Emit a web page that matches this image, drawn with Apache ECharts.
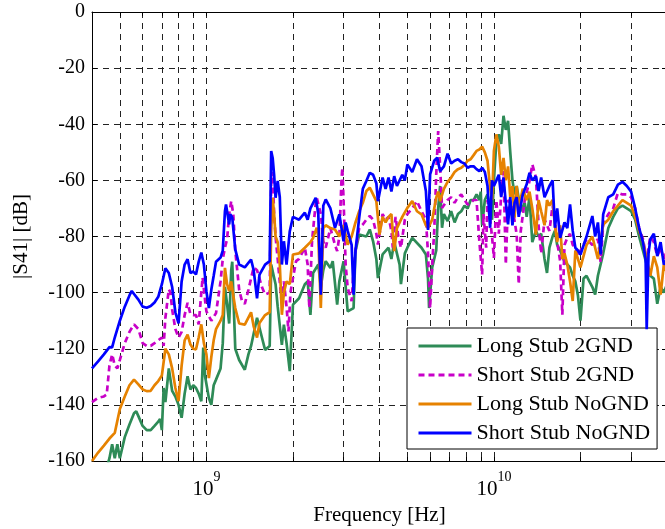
<!DOCTYPE html>
<html><head><meta charset="utf-8">
<script src="https://cdn.jsdelivr.net/npm/echarts@6/dist/echarts.min.js"></script>
<style>html,body{margin:0;padding:0;background:#fff}#c{width:665px;height:529px}</style>
</head><body><div id="c"></div>
<script>
const seriesNames = ['Long Stub 2GND', 'Short Stub 2GND', 'Long Stub NoGND', 'Short Stub NoGND'];
const seriesColors = ['#2e8b57', '#c800c8', '#e68200', '#0000ff'];
const xMinorTicksHz = [5e8,6e8,7e8,8e8,9e8,1e9,2e9,3e9,4e9,5e9,6e9,7e9,8e9,9e9,1e10,2e10,3e10];
const xLabelTicksHz = [1e9, 1e10];
const yMin = -160, yMax = 0, yStep = 20;

// [frequency in GHz, |S41| in dB]
const longStub2GND = [[0.44,-166],[0.46,-159],[0.47,-154],[0.48,-159],[0.49,-154],[0.50,-159],[0.52,-151.5],[0.54,-147],[0.56,-143],[0.57,-142.3],[0.58,-144],[0.60,-147.5],[0.62,-149],[0.64,-149],[0.66,-147.5],[0.68,-146],[0.69,-145],[0.70,-149],[0.71,-134],[0.72,-139],[0.74,-127],[0.76,-135],[0.78,-137],[0.80,-140],[0.82,-144.6],[0.84,-136],[0.86,-129.8],[0.88,-134.5],[0.90,-133],[0.92,-134],[0.94,-136],[0.96,-138.7],[0.975,-119.6],[0.99,-130],[1.00,-130.5],[1.02,-137.6],[1.04,-140],[1.06,-133],[1.08,-131],[1.12,-127],[1.14,-118],[1.16,-98],[1.18,-104],[1.20,-111],[1.22,-92],[1.23,-89],[1.24,-100],[1.26,-120],[1.30,-124],[1.36,-127.5],[1.40,-122],[1.43,-119],[1.50,-109],[1.56,-116],[1.60,-120.4],[1.66,-119],[1.68,-90],[1.70,-90],[1.74,-97],[1.77,-105],[1.83,-118.6],[1.86,-111.4],[1.90,-118],[1.95,-128],[2.00,-104.3],[2.1,-102],[2.2,-97],[2.25,-96],[2.3,-107.9],[2.35,-93],[2.45,-90],[2.5,-98],[2.55,-92],[2.6,-88.8],[2.7,-91.2],[2.75,-88.8],[2.85,-104.3],[2.9,-96],[3.0,-88.8],[3.1,-106.7],[3.25,-105.5],[3.3,-85.2],[3.4,-79.3],[3.6,-80],[3.7,-77.5],[3.8,-81.7],[3.9,-88],[3.95,-94.8],[4.1,-86.4],[4.3,-84],[4.4,-88],[4.5,-82],[4.7,-90],[4.75,-97],[4.9,-86],[5.0,-84],[5.2,-80.5],[5.6,-84],[5.8,-86.4],[5.9,-95],[5.95,-105.5],[6.1,-91],[6.3,-85],[6.4,-70],[6.5,-62],[6.6,-76.9],[6.7,-72],[6.9,-74.5],[7.1,-71],[7.3,-75],[7.5,-72],[7.7,-71],[7.9,-69],[8.1,-70],[8.3,-67],[8.5,-67],[8.7,-65],[8.9,-67],[9.0,-64],[9.1,-76],[9.3,-67],[9.5,-65],[9.7,-70],[9.85,-74],[10.0,-60],[10.2,-46],[10.4,-43.6],[10.6,-47],[10.8,-37],[11.0,-42],[11.2,-38.8],[11.4,-50],[11.6,-60],[11.8,-65],[12.0,-62],[12.4,-71],[12.8,-68],[13.0,-73],[13.3,-66],[13.6,-82],[14.0,-78],[14.3,-80],[14.6,-79],[15.0,-88],[15.3,-93],[15.6,-84],[16.0,-80],[16.3,-78],[16.6,-83],[17.0,-85],[17.3,-87],[17.6,-89],[18.0,-90],[18.4,-91],[18.8,-94],[19.2,-96],[19.6,-101],[20,-110],[20.5,-95],[21,-94],[22,-98],[22.5,-100.7],[23,-94],[24,-86],[25,-77],[26,-73],[27,-70],[28,-69],[29,-70],[30,-71],[31,-74],[32,-80],[33,-85],[34,-90],[35,-94],[36,-95],[37,-104],[38,-98],[39,-100],[40,-97]];

const shortStub2GND = [[0.40,-139],[0.42,-137.5],[0.44,-137],[0.45,-136.3],[0.46,-126],[0.47,-122],[0.48,-126],[0.49,-127],[0.50,-124],[0.52,-118],[0.54,-114],[0.56,-111.3],[0.58,-113],[0.60,-118],[0.62,-119],[0.64,-119],[0.66,-118],[0.68,-117],[0.70,-116],[0.71,-119],[0.72,-109],[0.74,-98.8],[0.75,-100],[0.76,-106],[0.78,-113],[0.80,-116],[0.82,-114],[0.84,-108],[0.86,-103.6],[0.88,-107.7],[0.90,-108],[0.92,-108],[0.94,-111.3],[0.96,-100],[0.97,-94.6],[0.99,-103],[1.00,-106.7],[1.04,-110],[1.08,-107.3],[1.12,-96],[1.14,-88],[1.16,-84],[1.18,-81],[1.20,-72],[1.22,-67.4],[1.24,-72],[1.26,-85],[1.28,-92],[1.30,-99],[1.33,-103],[1.36,-104],[1.40,-99],[1.46,-91],[1.50,-92],[1.56,-98],[1.60,-100.7],[1.66,-100],[1.68,-60],[1.70,-57],[1.72,-72],[1.74,-80],[1.77,-88],[1.83,-104.3],[1.86,-96],[1.90,-105],[1.93,-113.8],[1.96,-100],[2.00,-94.8],[2.05,-88.8],[2.1,-88],[2.2,-84],[2.25,-90],[2.28,-105.5],[2.33,-81.7],[2.4,-68],[2.42,-66.2],[2.5,-72],[2.55,-81.7],[2.6,-84],[2.7,-77],[2.8,-83],[2.85,-85.2],[2.9,-80],[2.95,-60],[2.97,-55.5],[3.0,-67],[3.05,-90],[3.1,-98.3],[3.2,-103],[3.25,-92],[3.3,-85],[3.4,-77],[3.5,-75.7],[3.6,-74],[3.7,-72.7],[3.8,-74],[3.9,-79],[3.95,-82.9],[4.1,-72],[4.2,-74],[4.3,-73],[4.4,-78],[4.45,-84],[4.55,-73],[4.65,-80],[4.75,-84],[4.9,-74],[5.0,-72],[5.2,-70],[5.4,-67.4],[5.6,-71],[5.8,-74],[5.9,-86],[6.0,-105.5],[6.1,-90],[6.2,-78],[6.3,-58],[6.4,-42.4],[6.5,-55],[6.6,-69.8],[6.7,-70],[6.9,-67],[7.1,-66],[7.3,-68],[7.5,-66],[7.7,-65],[7.9,-67],[8.1,-68.6],[8.3,-68],[8.5,-67],[8.7,-67],[8.9,-81.7],[9.1,-93.6],[9.2,-72],[9.4,-84],[9.5,-67],[9.7,-74],[9.85,-80],[10.0,-87.6],[10.2,-67],[10.4,-79],[10.6,-65],[10.8,-56.7],[11.0,-90],[11.2,-67],[11.6,-69.5],[12.0,-79.3],[12.2,-97],[12.4,-78],[12.8,-67],[13.3,-60.2],[13.6,-54.3],[14.0,-59],[14.3,-76],[14.6,-86],[15.0,-74],[15.6,-78],[16.0,-69],[16.3,-74],[16.6,-82],[17.0,-88.8],[17.3,-107.9],[17.6,-83],[18.0,-80.5],[18.4,-79],[18.8,-83],[19.2,-84],[19.6,-87],[20,-85],[21,-81],[22,-83],[23,-81],[23.5,-89],[24,-75.7],[25,-72],[26,-70],[27,-64.4],[28,-65],[29,-65],[30,-66],[31,-70],[32,-77],[33,-81],[34,-88],[35,-80],[36,-82],[37,-87],[38,-84],[39,-88],[40,-85]];

const longStubNoGND = [[0.40,-160],[0.42,-157],[0.44,-154.5],[0.46,-152],[0.48,-150],[0.50,-141.5],[0.52,-137],[0.54,-133],[0.56,-131],[0.58,-132.7],[0.60,-134.5],[0.62,-135.1],[0.64,-135],[0.66,-133],[0.68,-131.5],[0.70,-129.5],[0.72,-120],[0.74,-122],[0.76,-127],[0.78,-134],[0.80,-138.7],[0.82,-126],[0.84,-117],[0.86,-115],[0.88,-118.5],[0.90,-120],[0.92,-120.2],[0.94,-116],[0.96,-111.3],[0.98,-118],[1.00,-122],[1.02,-130.5],[1.04,-123],[1.06,-117],[1.08,-113],[1.12,-110],[1.14,-108],[1.16,-91.2],[1.18,-97],[1.20,-99.5],[1.22,-96],[1.24,-101],[1.26,-105.5],[1.30,-111],[1.36,-111.4],[1.43,-107],[1.46,-112],[1.50,-116],[1.53,-110.8],[1.60,-108],[1.66,-107],[1.68,-78],[1.70,-66.2],[1.72,-72],[1.74,-80],[1.77,-82],[1.80,-90],[1.83,-107.9],[1.86,-100],[1.90,-96],[1.95,-97],[2.00,-86.4],[2.1,-86],[2.2,-84],[2.3,-82],[2.35,-80.5],[2.42,-76.9],[2.45,-80],[2.5,-105.5],[2.55,-77],[2.6,-76],[2.7,-77],[2.8,-77.5],[2.9,-80],[3.0,-76],[3.1,-82.9],[3.2,-80],[3.3,-75],[3.4,-71],[3.5,-68],[3.6,-63.8],[3.7,-62.6],[3.8,-65],[3.9,-67.4],[4.0,-79.3],[4.1,-73],[4.2,-75],[4.3,-73],[4.4,-72],[4.5,-85.2],[4.6,-77],[4.8,-73],[5.0,-69.8],[5.2,-67.4],[5.4,-71],[5.6,-72.1],[5.8,-76],[5.9,-77],[6.1,-74],[6.3,-66.2],[6.4,-64],[6.5,-67.4],[6.7,-63],[6.9,-60.5],[7.1,-59],[7.3,-57],[7.5,-56],[7.7,-55.5],[7.9,-54.5],[8.1,-53],[8.3,-52.5],[8.5,-51],[8.7,-49.5],[8.9,-49],[9.1,-48],[9.3,-50],[9.5,-53],[9.7,-62.6],[9.85,-67],[10.0,-49.5],[10.2,-43.6],[10.4,-48],[10.6,-58],[10.8,-52],[11.0,-60],[11.2,-55],[11.4,-66],[11.6,-62],[11.8,-73.3],[12.0,-62],[12.2,-70],[12.6,-63],[13.0,-67],[13.3,-64],[13.6,-70],[14.0,-79.3],[14.3,-67],[14.6,-71],[15.0,-76],[15.3,-67],[15.6,-69],[16.0,-67],[16.3,-76],[16.6,-82],[17.0,-76],[17.3,-88],[17.6,-86],[18.0,-90],[18.4,-96],[18.8,-103],[19.2,-85],[19.6,-88],[20,-91],[21,-83],[22,-80],[23,-88],[24,-75.7],[25,-74],[26,-71],[27,-69],[28,-67],[29,-68],[30,-69],[31,-73],[32,-78],[33,-82],[34,-88],[35,-94],[36,-87],[37,-91],[38,-100.7],[39,-90],[40,-93]];

const shortStubNoGND = [[0.40,-127],[0.42,-124.5],[0.44,-122],[0.46,-119.4],[0.47,-119.5],[0.48,-116],[0.50,-110],[0.52,-105],[0.54,-101],[0.55,-99.4],[0.56,-100.5],[0.58,-102.5],[0.60,-105],[0.62,-105.4],[0.64,-104.8],[0.66,-103.5],[0.68,-101.5],[0.70,-97],[0.72,-91.3],[0.74,-93],[0.76,-98],[0.78,-107],[0.80,-111],[0.82,-96],[0.84,-90],[0.86,-88.1],[0.88,-93],[0.90,-92.5],[0.92,-93.5],[0.94,-89],[0.96,-85.7],[0.98,-90],[1.00,-99.5],[1.02,-105.5],[1.04,-99],[1.06,-94],[1.08,-89],[1.12,-87.5],[1.14,-85],[1.16,-71],[1.17,-68.6],[1.20,-75.7],[1.21,-72],[1.23,-73.3],[1.26,-84.6],[1.30,-90],[1.36,-91],[1.43,-88.2],[1.46,-92],[1.50,-102],[1.53,-93.6],[1.60,-90],[1.66,-88.8],[1.68,-49.5],[1.70,-52],[1.72,-58],[1.74,-66.2],[1.77,-60.2],[1.80,-66],[1.83,-90],[1.86,-81.7],[1.90,-90],[1.95,-78.1],[2.0,-73],[2.1,-74],[2.2,-71.5],[2.25,-74],[2.3,-70],[2.4,-66.2],[2.45,-72],[2.5,-100.7],[2.55,-69],[2.6,-66.8],[2.7,-70],[2.8,-76.9],[2.9,-72.1],[3.0,-81.7],[3.05,-75],[3.1,-78],[3.2,-83],[3.25,-100.7],[3.3,-85],[3.4,-73.3],[3.5,-63],[3.6,-60.2],[3.7,-57.3],[3.8,-58],[3.9,-61],[3.95,-67.4],[4.1,-59],[4.2,-63],[4.3,-59],[4.4,-64],[4.5,-58.5],[4.6,-62],[4.8,-58],[4.9,-60],[5.0,-54.3],[5.2,-57],[5.4,-52.5],[5.6,-55],[5.8,-63.8],[5.9,-77.7],[6.0,-57.9],[6.2,-53],[6.35,-51.9],[6.5,-56.7],[6.7,-55],[6.9,-50.5],[7.1,-54],[7.3,-53],[7.5,-52.5],[7.7,-53.5],[7.9,-54],[8.1,-55.5],[8.3,-55],[8.5,-55],[8.7,-56],[8.9,-56.7],[9.1,-55.5],[9.3,-57],[9.5,-62],[9.7,-76.9],[9.85,-60],[10.0,-62],[10.2,-60],[10.4,-58],[10.6,-66],[10.8,-59],[11.0,-68],[11.2,-75.7],[11.4,-66],[11.6,-76],[11.8,-68],[12.0,-66],[12.2,-73],[12.6,-65],[13.0,-61.4],[13.3,-57.3],[13.6,-60],[14.0,-58.5],[14.3,-63.8],[14.6,-59],[15.0,-66],[15.6,-62],[16.0,-60],[16.3,-76.9],[16.6,-70],[17.0,-80.5],[17.6,-75],[18.0,-77],[18.4,-68.6],[18.8,-78],[19.2,-84],[19.6,-85],[20,-86.4],[21,-80],[22,-72.7],[22.5,-80],[23,-75],[23.5,-86.4],[24,-72],[25,-66],[26,-65],[27,-61.5],[28,-60.5],[29,-62],[30,-64],[31,-70],[32,-77],[33,-82],[33.7,-88],[34,-113],[34.5,-86],[35,-81],[36,-79],[37,-87],[38,-82],[39,-90],[40,-88]];

const allSeries = [longStub2GND, shortStub2GND, longStubNoGND, shortStubNoGND];
const dashTypes = ['solid', [6, 4], 'solid', 'solid'];

const FONT = 'Liberation Serif';
const chart = echarts.init(document.getElementById('c'), null, {renderer: 'canvas'});

const gridLine = {show: true, lineStyle: {type: [6, 5], color: '#222', width: 1}};
const axisLineStyle = {show: true, onZero: false, lineStyle: {color: '#000', width: 1}};

const xBase = {
  type: 'log', logBase: 10, min: 4e8, max: 4e10,
  axisLine: axisLineStyle,
  axisTick: {show: true, inside: true, length: 4, customValues: xMinorTicksHz, lineStyle: {color: '#000'}},
};

chart.setOption({
  animation: false,
  backgroundColor: '#fff',
  grid: {left: 92, top: 12, width: 575, height: 449, containLabel: false, outerBoundsMode: 'none'},
  legend: {
    orient: 'vertical', left: 407, top: 328,
    padding: [7, 7, 5, 10], itemGap: 7, itemWidth: 53, itemHeight: 14,
    backgroundColor: '#fff', borderColor: '#000', borderWidth: 1, borderRadius: 0,
    itemStyle: {opacity: 0},
    lineStyle: {width: 3},
    textStyle: {fontFamily: FONT, fontSize: 22, color: '#000', lineHeight: 22},
    data: seriesNames
  },
  xAxis: [
    Object.assign({}, xBase, {
      position: 'bottom',
      splitLine: gridLine,
      axisLabel: {
        show: true, customValues: xLabelTicksHz, margin: 9, color: '#000',
        formatter: v => '{b|10}{s|' + Math.round(Math.log10(v)) + '}',
        rich: {
          b: {fontFamily: FONT, fontSize: 21, lineHeight: 21, verticalAlign: 'top', padding: [9, 0, 0, 0], color: '#000'},
          s: {fontFamily: FONT, fontSize: 14, lineHeight: 14, verticalAlign: 'top', color: '#000'}
        }
      },
      name: 'Frequency [Hz]', nameLocation: 'middle', nameGap: 38,
      nameTextStyle: {fontFamily: FONT, fontSize: 21, color: '#000'}
    }),
    Object.assign({}, xBase, {
      position: 'top',
      splitLine: {show: false},
      axisLabel: {show: false}
    })
  ],
  yAxis: [
    {
      type: 'value', min: yMin, max: yMax, interval: yStep, position: 'left',
      axisLine: axisLineStyle,
      axisTick: {show: true, inside: true, length: 5, lineStyle: {color: '#000'}},
      axisLabel: {color: '#000', fontFamily: FONT, fontSize: 20, margin: 7},
      splitLine: gridLine,
      name: '|S41| [dB]', nameLocation: 'middle', nameGap: 60, nameRotate: 90,
      nameTextStyle: {fontFamily: FONT, fontSize: 21, color: '#000'}
    },
    {
      type: 'value', min: yMin, max: yMax, interval: yStep, position: 'right',
      axisLine: axisLineStyle,
      axisTick: {show: true, inside: true, length: 5, lineStyle: {color: '#000'}},
      axisLabel: {show: false},
      splitLine: {show: false}
    }
  ],
  series: allSeries.map((arr, i) => ({
    name: seriesNames[i],
    type: 'line',
    xAxisIndex: 0, yAxisIndex: 0,
    data: arr.map(p => [p[0] * 1e9, p[1]]),
    symbol: 'none', showSymbol: false, smooth: false, clip: true,
    color: seriesColors[i],
    lineStyle: {color: seriesColors[i], width: 2.7, type: dashTypes[i]},
    emphasis: {disabled: true},
    z: 2 + i
  }))
});
</script>
</body></html>
